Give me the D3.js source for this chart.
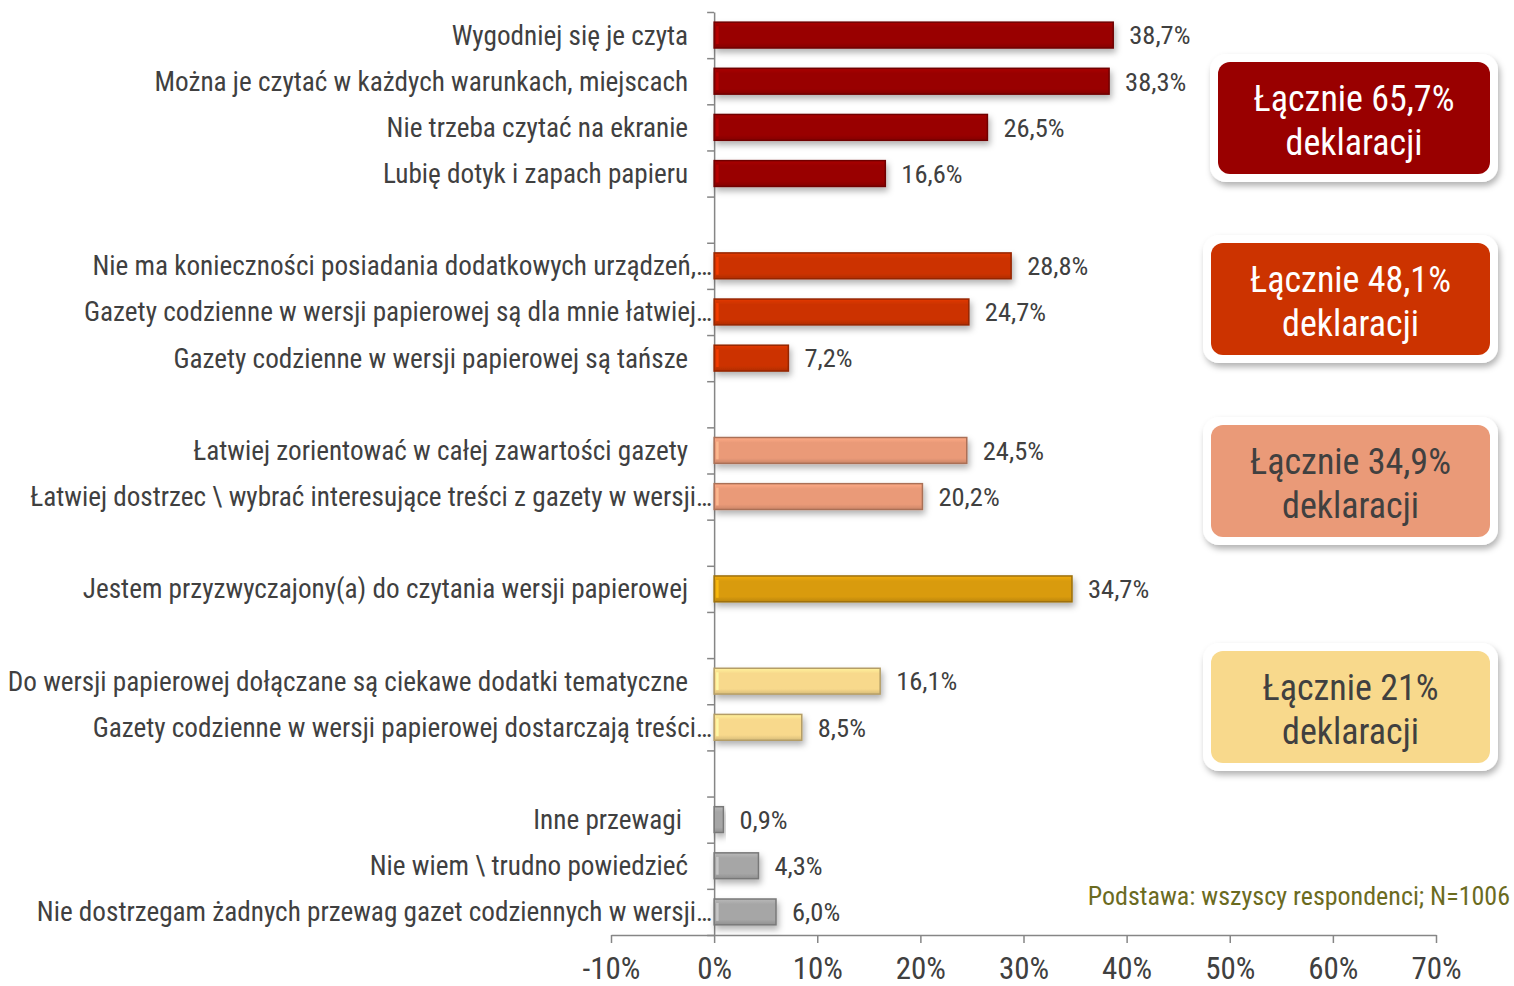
<!DOCTYPE html>
<html lang="pl">
<head>
<meta charset="UTF-8">
<script src="https://d3js.org/d3.v7.min.js"></script>
<title>Przewagi gazet papierowych</title>
<style>
  body { margin: 0; background: #fff; }
  svg text { font-family: 'Liberation Sans Narrow', 'Arial Narrow', 'Roboto Condensed', sans-serif; }
</style>
</head>
<body>
<div id="chart"></div>
<script>
// data
const labels = [
  "Wygodniej się je czyta",
  "Można je czytać w każdych warunkach, miejscach",
  "Nie trzeba czytać na ekranie",
  "Lubię dotyk i zapach papieru",
  "Nie ma konieczności posiadania dodatkowych urządzeń,…",
  "Gazety codzienne w wersji papierowej są dla mnie łatwiej…",
  "Gazety codzienne w wersji papierowej są tańsze",
  "Łatwiej zorientować w całej zawartości gazety",
  "Łatwiej dostrzec \\ wybrać interesujące treści z gazety w wersji…",
  "Jestem przyzwyczajony(a) do czytania wersji papierowej",
  "Do wersji papierowej dołączane są ciekawe dodatki tematyczne",
  "Gazety codzienne w wersji papierowej dostarczają treści…",
  "Inne przewagi ",
  "Nie wiem \\ trudno powiedzieć",
  "Nie dostrzegam żadnych przewag gazet codziennych w wersji…"
];
const values = [38.7, 38.3, 26.5, 16.6, 28.8, 24.7, 7.2, 24.5, 20.2, 34.7, 16.1, 8.5, 0.9, 4.3, 6.0];
const groups = [0, 0, 0, 0, 1, 1, 1, 2, 2, 3, 4, 4, 5, 5, 5];
const groupColors = ["#990000", "#CC3300", "#EA9A78", "#D99B0C", "#F8D98C", "#A6A6A6"];
const xTicks = [-10, 0, 10, 20, 30, 40, 50, 60, 70];

const boxTexts = ["Łącznie 65,7%", "Łącznie 48,1%", "Łącznie 34,9%", "Łącznie 21%"];
const boxGroups = [0, 1, 2, 4];
const boxTextColors = ["#ffffff", "#ffffff", "#404040", "#404040"];
const footnote = "Podstawa: wszyscy respondenci; N=1006";

const W = 1514, H = 986;
const svg = d3.select("#chart").append("svg")
  .attr("width", W).attr("height", H);

const defs = svg.append("defs");
const shadow = defs.append("filter").attr("id", "shadow")
  .attr("x", "-10%").attr("y", "-30%").attr("width", "130%").attr("height", "190%");
shadow.append("feDropShadow").attr("dx", 2).attr("dy", 4).attr("stdDeviation", 3)
  .attr("flood-color", "#000").attr("flood-opacity", 0.3);

groupColors.forEach((c, i) => {
  const g = defs.append("linearGradient").attr("id", "grad" + i)
    .attr("x1", 0).attr("y1", 0).attr("x2", 0).attr("y2", 1);
  g.append("stop").attr("offset", "0%").attr("stop-color", d3.color(c).brighter(0.3));
  g.append("stop").attr("offset", "20%").attr("stop-color", c);
  g.append("stop").attr("offset", "80%").attr("stop-color", c);
  g.append("stop").attr("offset", "100%").attr("stop-color", d3.color(c).darker(0.4));
});

// slots: a blank slot between each group
const slots = [];
labels.forEach((l, i) => {
  if (i > 0 && groups[i] !== groups[i - 1]) slots.push(null);
  slots.push(i);
});

const x = d3.scaleLinear().domain([-10, 70]).range([611, 1436]);
const plotTop = 12, plotBottom = 935;
const y = d3.scaleBand().domain(d3.range(slots.length)).range([plotTop, plotBottom]).paddingInner(0.44).paddingOuter(0.22);
const yIdx = d3.scaleLinear().domain([0, slots.length]).range([plotTop, plotBottom]);

const axisColor = "#868686";

// y axis (ticks at slot boundaries)
const yAxis = svg.append("g").attr("transform", `translate(${x(0)},0)`)
  .call(d3.axisLeft(yIdx).tickValues(d3.range(slots.length + 1)).tickSize(7).tickSizeOuter(0).tickFormat(""));
yAxis.selectAll("line, path").attr("stroke", axisColor).attr("stroke-width", 1.5);

// x axis
const xAxis = svg.append("g").attr("transform", `translate(0,${plotBottom})`)
  .call(d3.axisBottom(x).tickValues(xTicks).tickSize(8).tickSizeOuter(0).tickPadding(14).tickFormat(d => d + "%"));
xAxis.selectAll("line, path").attr("stroke", axisColor).attr("stroke-width", 1.5);
xAxis.selectAll("text").attr("font-size", 31).attr("fill", "#404040");

const rows = slots.map((s, k) => ({ s, k })).filter(d => d.s !== null);

// bars
const bars = svg.append("g").selectAll("g").data(rows).join("g");
bars.append("rect")
  .attr("x", x(0))
  .attr("y", d => y(d.k))
  .attr("width", d => x(values[d.s]) - x(0))
  .attr("height", y.bandwidth())
  .attr("fill", d => `url(#grad${groups[d.s]})`)
  .attr("stroke", d => d3.color(groupColors[groups[d.s]]).darker(0.9))
  .attr("stroke-width", 1.5)
  .attr("filter", "url(#shadow)");
bars.append("rect")
  .attr("x", x(0) + 2)
  .attr("y", d => y(d.k) + 4)
  .attr("width", 2.5)
  .attr("height", y.bandwidth() - 8)
  .attr("fill", d => d3.color(groupColors[groups[d.s]]).brighter(0.6))
  .attr("opacity", d => values[d.s] > 1 ? 0.8 : 0);

// value labels
bars.append("text")
  .attr("x", d => x(values[d.s]) + 16)
  .attr("y", d => y(d.k) + y.bandwidth() / 2)
  .attr("dy", "0.35em")
  .attr("font-size", 26.5)
  .attr("fill", "#404040")
  .text(d => values[d.s].toFixed(1).replace(".", ",") + "%");

// category labels
bars.append("text")
  .attr("x", d => labels[d.s].endsWith("…") ? x(0) - 2 : x(0) - 26)
  .attr("y", d => y(d.k) + y.bandwidth() / 2)
  .attr("dy", "0.35em")
  .attr("text-anchor", "end")
  .attr("font-size", 27.2)
  .attr("fill", "#404040")
  .style("white-space", "pre")
  .text(d => labels[d.s]);

// total boxes next to groups
const boxTop = [62, 243, 425, 651];
const boxLeft = [1218, 1211, 1211, 1211];
const boxes = svg.append("g").selectAll("g").data(boxTexts).join("g");
boxes.append("rect")
  .attr("x", (d, i) => boxLeft[i] - 8).attr("y", (d, i) => boxTop[i] - 8)
  .attr("width", (d, i) => 1490 - boxLeft[i] + 16).attr("height", 128)
  .attr("rx", 16).attr("fill", "#fff").attr("filter", "url(#shadow)");
boxes.append("rect")
  .attr("x", (d, i) => boxLeft[i]).attr("y", (d, i) => boxTop[i])
  .attr("width", (d, i) => 1490 - boxLeft[i]).attr("height", 112)
  .attr("rx", 12).attr("fill", (d, i) => groupColors[boxGroups[i]]);
boxes.append("text")
  .attr("x", (d, i) => (boxLeft[i] + 1490) / 2).attr("y", (d, i) => boxTop[i] + 36)
  .attr("dy", "0.35em").attr("text-anchor", "middle")
  .attr("font-size", 36).attr("fill", (d, i) => boxTextColors[i])
  .text(d => d);
boxes.append("text")
  .attr("x", (d, i) => (boxLeft[i] + 1490) / 2).attr("y", (d, i) => boxTop[i] + 80)
  .attr("dy", "0.35em").attr("text-anchor", "middle")
  .attr("font-size", 36).attr("fill", (d, i) => boxTextColors[i])
  .text("deklaracji");

// footnote
svg.append("text")
  .attr("x", 1510).attr("y", 896).attr("dy", "0.35em")
  .attr("text-anchor", "end").attr("font-size", 26).attr("fill", "#6B6B1F")
  .text(footnote);
</script>
</body>
</html>
